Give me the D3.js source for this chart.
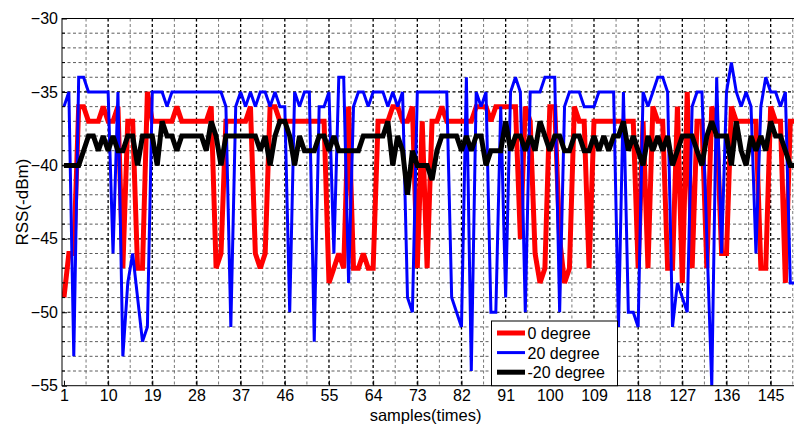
<!DOCTYPE html>
<html><head><meta charset="utf-8">
<script src="https://cdn.jsdelivr.net/npm/d3@7"></script>
<style>
html,body{margin:0;padding:0;background:#fff;}
svg{display:block;font-family:"Liberation Sans",Arial,sans-serif;}
</style></head>
<body>
<svg id="c" width="794" height="424"></svg>
<script>
const xTicks = [1,10,19,28,37,46,55,64,73,82,91,100,109,118,127,136,145];
const yTicks = [-55,-50,-45,-40,-35,-30];
const seriesNames = ["0 degree","20 degree","-20 degree"];
const seriesColors = ["#ff0000","#0000ff","#000000"];

const red = [-49,-46,-46,-36,-36,-37,-37,-37,-36,-37,
-37,-36,-47,-37,-37,-47,-47,-35,-37,-37,
-37,-37,-37,-36,-37,-37,-37,-37,-37,-37,
-36,-47,-46,-37,-37,-37,-37,-37,-36,-46,
-47,-46,-36,-36,-37,-37,-37,-37,-37,-37,
-37,-37,-37,-37,-48,-47,-46,-47,-36,-47,
-47,-46,-47,-47,-37,-37,-37,-36,-36,-37,
-37,-36,-47,-37,-47,-37,-37,-36,-37,-37,
-37,-37,-37,-37,-36,-36,-36,-37,-36,-36,
-36,-36,-36,-45,-36,-37,-46,-48,-47,-36,
-36,-45,-48,-47,-36,-37,-37,-47,-37,-37,
-37,-37,-37,-37,-37,-37,-37,-47,-37,-47,
-36,-37,-37,-47,-47,-36,-48,-35,-47,-37,
-37,-47,-36,-37,-46,-46,-36,-37,-37,-37,
-37,-37,-47,-47,-36,-37,-37,-48,-37,-37];

const blue = [-36,-35,-53,-34,-34,-35,-35,-35,-35,-35,
-46,-35,-53,-48,-46,-49,-52,-51,-35,-35,
-35,-36,-35,-35,-35,-35,-35,-35,-35,-35,
-35,-35,-35,-36,-51,-36,-35,-36,-35,-36,
-35,-35,-36,-35,-36,-36,-50,-35,-36,-35,
-35,-52,-36,-36,-35,-46,-34,-34,-48,-36,
-35,-35,-36,-35,-35,-35,-36,-35,-36,-35,
-49,-50,-35,-35,-35,-35,-35,-35,-35,-49,
-50,-51,-34,-54,-35,-36,-35,-50,-50,-36,
-49,-35,-34,-35,-50,-35,-35,-35,-34,-34,
-34,-50,-36,-35,-35,-35,-36,-36,-36,-35,
-35,-35,-35,-51,-35,-50,-50,-51,-35,-36,
-35,-34,-34,-35,-51,-48,-49,-50,-36,-35,
-35,-45,-55,-34,-46,-35,-33,-35,-36,-35,
-36,-46,-36,-34,-35,-35,-36,-35,-48,-48];

const black = [-40,-40,-40,-40,-39,-38,-38,-39,-38,-39,
-38,-39,-39,-38,-38,-40,-38,-38,-38,-40,
-37,-38,-38,-39,-38,-38,-38,-38,-38,-39,
-37,-38,-40,-38,-38,-38,-38,-38,-38,-38,
-39,-38,-40,-38,-37,-37,-38,-40,-38,-39,
-39,-39,-38,-38,-39,-38,-39,-39,-39,-39,
-39,-38,-38,-38,-38,-38,-37,-40,-38,-39,
-42,-39,-40,-40,-40,-41,-39,-38,-38,-38,
-38,-39,-38,-39,-38,-38,-40,-39,-39,-39,
-37,-39,-38,-38,-39,-38,-39,-37,-38,-39,
-38,-38,-39,-39,-38,-38,-39,-39,-38,-39,
-38,-39,-38,-38,-37,-39,-38,-39,-40,-38,
-39,-38,-39,-38,-40,-39,-38,-38,-38,-39,
-40,-38,-37,-38,-38,-38,-40,-37,-39,-40,
-38,-39,-38,-39,-37,-38,-38,-39,-40,-40];

const samples = d3.range(1, red.length + 1);
const seriesData = [red, blue, black];
const seriesWidths = [5, 3, 5];

const L = 62, R = 795.2, T = 18.5, B = 385.7;
const svg = d3.select("#c");
const x = d3.scaleLinear().domain([0.6, 150]).range([L, R]);
const y = d3.scaleLinear().domain([-55, -30]).range([B, T]);

svg.append("defs").append("clipPath").attr("id","clip")
  .append("rect").attr("x",L).attr("y",T).attr("width",R-L).attr("height",B-T);

const grid = svg.append("g");
// minor horizontal grid (every 1 dB)
d3.range(-54, -30).filter(v => v % 5 !== 0).forEach(v => {
  grid.append("line").attr("x1",L).attr("x2",R).attr("y1",y(v)).attr("y2",y(v))
    .attr("stroke","#333").attr("stroke-width",0.8).attr("stroke-dasharray","3,2.5");
});
// minor vertical grid (midpoints)
const xMinor = xTicks.map(t => t + 4.5);
xMinor.forEach(v => {
  grid.append("line").attr("x1",x(v)).attr("x2",x(v)).attr("y1",T).attr("y2",B)
    .attr("stroke","#555").attr("stroke-width",0.8).attr("stroke-dasharray","3,2.5");
});
// major grid
yTicks.slice(1,-1).forEach(v => {
  grid.append("line").attr("x1",L).attr("x2",R).attr("y1",y(v)).attr("y2",y(v))
    .attr("stroke","#000").attr("stroke-width",1.2).attr("stroke-dasharray","3,2.5");
});
xTicks.slice(1).forEach(v => {
  grid.append("line").attr("x1",x(v)).attr("x2",x(v)).attr("y1",T).attr("y2",B)
    .attr("stroke","#000").attr("stroke-width",1.3).attr("stroke-dasharray","3,2.5");
});

// series
const line = d3.line().x((d,i) => x(samples[i])).y(d => y(d));
const plot = svg.append("g").attr("clip-path","url(#clip)");
seriesData.forEach((s, k) => {
  plot.append("path").datum(s).attr("d", line)
    .attr("fill","none").attr("stroke",seriesColors[k])
    .attr("stroke-width",seriesWidths[k]).attr("stroke-linejoin","miter").attr("stroke-miterlimit",2);
});

// axes
const fontSize = 16;
const xAxis = d3.axisBottom(x).tickValues(xTicks).tickSize(-5).tickPadding(4).tickFormat(d3.format("d"));
const gx = svg.append("g").attr("transform",`translate(0,${B})`).call(xAxis);
const yAxis = d3.axisLeft(y).tickValues(yTicks).tickSize(-5).tickPadding(4).tickFormat(d3.format("d"));
const gy = svg.append("g").attr("transform",`translate(${L},0)`).call(yAxis);
[gx, gy].forEach(g => {
  g.select(".domain").remove();
  g.selectAll("line").attr("stroke","#000");
  g.selectAll("text").attr("font-size",fontSize).attr("fill","#000")
    .attr("font-family","'Liberation Sans',Arial,sans-serif");
});
// minor y ticks
d3.range(-54, -30).filter(v => v % 5 !== 0).forEach(v => {
  svg.append("line").attr("x1",L).attr("x2",L+3).attr("y1",y(v)).attr("y2",y(v)).attr("stroke","#000");
});
// box
svg.append("rect").attr("x",L).attr("y",T).attr("width",R-L).attr("height",B-T)
  .attr("fill","none").attr("stroke","#000").attr("stroke-width",1);

// axis titles
svg.append("text").attr("x",(L+R)/2 - 3).attr("y",421).attr("text-anchor","middle")
  .attr("font-size",16.5).text("samples(times)");
svg.append("text").attr("transform",`translate(28,${(T+B)/2}) rotate(-90)`).attr("text-anchor","middle")
  .attr("font-size",17).text("RSS(-dBm)");

// legend
const lg = svg.append("g");
lg.append("rect").attr("x",491.5).attr("y",321).attr("width",126).attr("height",B-321)
  .attr("fill","#fff").attr("stroke","#000").attr("stroke-width",1);
seriesNames.forEach((n, k) => {
  const yy = 333 + k*19.6;
  lg.append("line").attr("x1",497).attr("x2",525).attr("y1",yy).attr("y2",yy)
    .attr("stroke",seriesColors[k]).attr("stroke-width",seriesWidths[k]);
  lg.append("text").attr("x",527.5).attr("y",yy+6).attr("font-size",16).text(n);
});
</script>
</body></html>
